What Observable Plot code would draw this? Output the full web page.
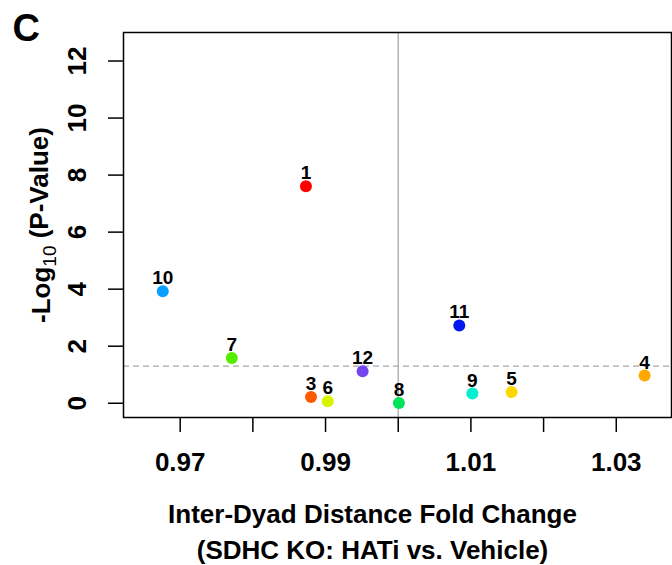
<!DOCTYPE html>
<html>
<head>
<meta charset="utf-8">
<script src="https://cdn.jsdelivr.net/npm/d3@7"></script>
<script src="https://cdn.jsdelivr.net/npm/@observablehq/plot@0.6"></script>
<style>
  html, body { margin: 0; padding: 0; background: #fff; overflow: hidden; }
  #chart svg { display: block; }
</style>
</head>
<body>
<div id="chart"></div>
<script>
// ---- data ----
const ids   = ["1", "3", "4", "5", "6", "7", "8", "9", "10", "11", "12"];
const fold  = [0.9873, 0.9880, 1.0339, 1.0156, 0.9903, 0.9771, 1.0001, 1.0102, 0.9676, 1.0084, 0.9951];
const logP  = [7.61, 0.22, 0.97, 0.39, 0.07, 1.59, 0.01, 0.34, 3.93, 2.73, 1.12];
const colors = ["#ff0000", "#ff5a00", "#ffa800", "#ffd700", "#d8f500", "#55ee00", "#00e45c", "#00f0d0", "#0aa0ff", "#0018ee", "#7446f0"];
const xTicks = [0.97, 0.98, 0.99, 1.00, 1.01, 1.02, 1.03];
const xTickLabels = ["0.97", "0.99", "1.01", "1.03"];
const yTicks = [0, 2, 4, 6, 8, 10, 12];
const vLine = [1.0];
const hLine = [-Math.log10(0.05)];
const panelLabel = ["C"];
const xTitle = ["Inter-Dyad Distance Fold Change", "(SDHC KO: HATi vs. Vehicle)"];
const yTitle = ["-Log10 (P-Value)"];

const pts = ids.map((id, i) => ({id, x: fold[i], y: logP[i], c: colors[i]}));
const font = "'Liberation Sans', Arial, Helvetica, sans-serif";

const chart = Plot.plot({
  width: 672,
  height: 565,
  marginLeft: 123,
  marginTop: 32,
  marginRight: 1,
  marginBottom: 148,
  style: {fontFamily: font, background: "#fff", color: "#000"},
  x: {domain: [0.9622, 1.0376], axis: null},
  y: {domain: [-0.5, 13], axis: null},
  marks: [
    Plot.ruleX(vLine, {stroke: "#a8a8a8", strokeWidth: 1.3}),
    Plot.ruleY(hLine, {stroke: "#a8a8a8", strokeWidth: 1.3, strokeDasharray: "6,4"}),
    Plot.frame({stroke: "#000", strokeWidth: 1.5}),
    Plot.axisX({ticks: xTicks, tickSize: 15, fill: "none", stroke: "#000", strokeWidth: 1.5, label: null}),
    Plot.axisY({ticks: yTicks, tickSize: 15, fill: "none", stroke: "#000", strokeWidth: 1.5, label: null}),
    Plot.text(xTickLabels, {x: d => +d, text: d => d, frameAnchor: "bottom", dy: 45,
      lineAnchor: "middle", fontSize: 26, fontWeight: "bold", fill: "#000"}),
    Plot.text(yTicks, {y: d => d, text: d => String(d), frameAnchor: "left", dx: -46, rotate: -90,
      textAnchor: "middle", lineAnchor: "middle", fontSize: 26, fontWeight: "bold", fill: "#000"}),
    Plot.dot(pts, {x: "x", y: "y", r: 6, fill: d => d.c, stroke: "none"}),
    Plot.text(pts, {x: "x", y: "y", text: "id", dy: -13, fontSize: 19, fontWeight: "bold", fill: "#000"}),
    Plot.text(panelLabel, {frameAnchor: "top-left", text: d => d, dx: -111, dy: -4, textAnchor: "start",
      lineAnchor: "middle", fontSize: 38, fontWeight: "bold", fill: "#000"}),
    Plot.text([xTitle[0]], {frameAnchor: "bottom", text: d => d, dx: -25, dy: 97,
      lineAnchor: "middle", fontSize: 26, fontWeight: "bold", fill: "#000"}),
    Plot.text([xTitle[1]], {frameAnchor: "bottom", text: d => d, dx: -25, dy: 133,
      lineAnchor: "middle", fontSize: 26, fontWeight: "bold", fill: "#000"}),
    Plot.text(yTitle, {frameAnchor: "left", text: d => d, dx: -82, rotate: -90,
      textAnchor: "middle", lineAnchor: "middle",
      fontSize: 26, fontWeight: "bold", fill: "#000", className: "ytitle"})
  ]
});

// render the "10" of Log10 as a subscript
d3.select(chart).selectAll("g.ytitle text").each(function () {
  const t = d3.select(this);
  t.text(null);
  t.append("tspan").text("-Log");
  t.append("tspan").text("10").attr("font-size", 19).attr("font-weight", "normal").attr("dy", "0.3em");
  t.append("tspan").text(" (P-Value)").attr("dy", "-0.3em");
});

document.getElementById("chart").appendChild(chart);
</script>
</body>
</html>
